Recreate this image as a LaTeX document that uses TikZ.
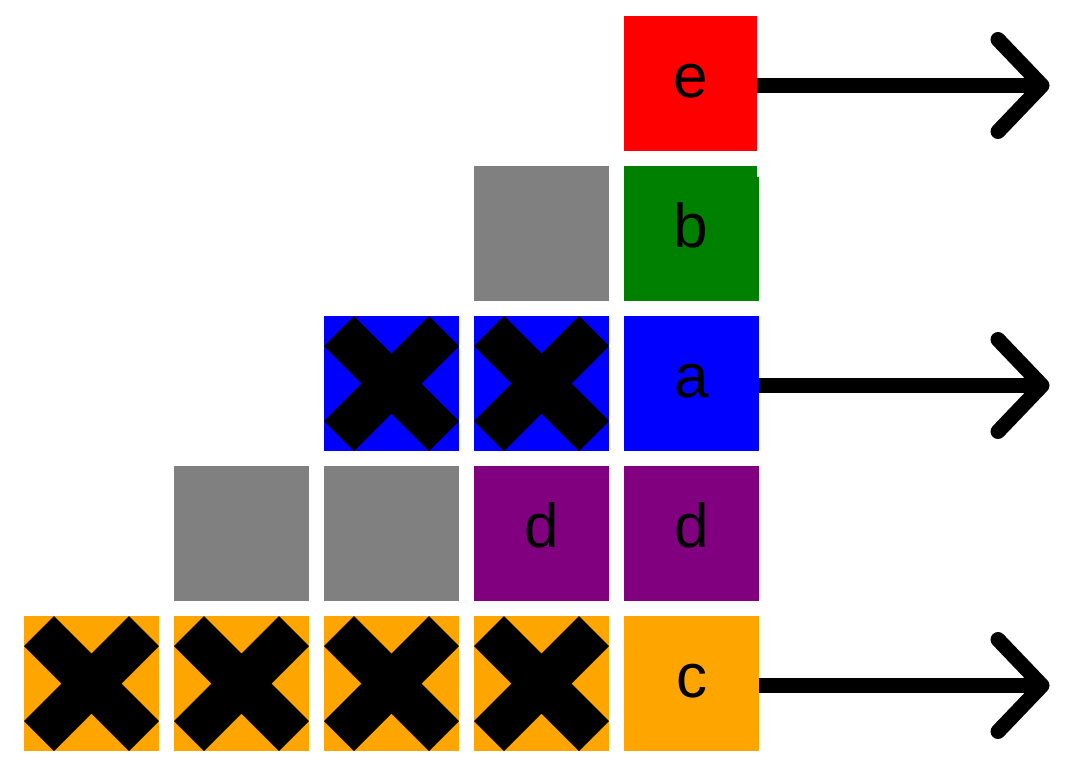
\documentclass[tikz,border=0pt]{standalone}
\usepackage{fontspec}
\setmainfont{Liberation Sans}
\definecolor{cred}{HTML}{FF0000}
\definecolor{cgreen}{HTML}{008000}
\definecolor{cblue}{HTML}{0000FF}
\definecolor{cpurple}{HTML}{800080}
\definecolor{corange}{HTML}{FFA500}
\definecolor{cgray}{HTML}{808080}
\newcommand{\xcross}[1]{%
  \fill[black,shift={(#1.north west)}] (0,30) -- (30,0) -- (67.5,37.5) -- (105,0) -- (135,30) -- (97.5,67.5) -- (135,105) -- (105,135) -- (67.5,97.5) -- (30,135) -- (0,105) -- (37.5,67.5) -- cycle;}
\tikzset{
  cell/.style={draw=none, inner sep=0pt, outer sep=0pt, minimum width=135pt, minimum height=135pt,
    font=\fontsize{62pt}{62pt}\selectfont, text height=27pt, text depth=0pt},
  shaft/.style={line width=15pt},
  barb/.style={line width=15pt, line cap=round, line join=round},
}
\begin{document}
\begin{tikzpicture}[x=1pt,y=-1pt]
\useasboundingbox (0,0) rectangle (1079,766);
% column 5
\node[cell, fill=cred, minimum width=133pt] (e) at (690.5,83.5) {e};
\node[cell, fill=cgreen, minimum width=133pt] (b) at (690.5,233.5) {b};
\fill[cgreen] (757,177) rectangle (759,301);
\node[cell, fill=cblue] (a) at (691.5,383.5) {a};
\node[cell, fill=cpurple] (d2) at (691.5,533.5) {d};
\node[cell, fill=corange] (c) at (691.5,683.5) {c};
% column 4
\node[cell, fill=cgray] (g4) at (541.5,233.5) {};
\node[cell, fill=cblue] (a4) at (541.5,383.5) {};
\node[cell, fill=cpurple] (d1) at (541.5,533.5) {d};
\node[cell, fill=corange] (c4) at (541.5,683.5) {};
% column 3
\node[cell, fill=cblue] (a3) at (391.5,383.5) {};
\node[cell, fill=cgray] (g3) at (391.5,533.5) {};
\node[cell, fill=corange] (c3) at (391.5,683.5) {};
% column 2
\node[cell, fill=cgray] (g2) at (241.5,533.5) {};
\node[cell, fill=corange] (c2) at (241.5,683.5) {};
% column 1
\node[cell, fill=corange] (c1) at (91.5,683.5) {};
% crosses
\xcross{a3}\xcross{a4}
\xcross{c1}\xcross{c2}\xcross{c3}\xcross{c4}
% arrows
\coordinate (te) at (1042,85.5);
\coordinate (ta) at (1042,385.5);
\coordinate (tc) at (1042,685.5);
\draw[shaft] ([yshift=-2pt]e.east) -- (te);
\draw[shaft] ([yshift=-2pt]a.east) -- (ta);
\draw[shaft] ([yshift=-2pt]c.east) -- (tc);
\draw[barb] ([shift={(-44,-46)}]te) -- (te) -- ([shift={(-44,46)}]te);
\draw[barb] ([shift={(-44,-46)}]ta) -- (ta) -- ([shift={(-44,46)}]ta);
\draw[barb] ([shift={(-44,-46)}]tc) -- (tc) -- ([shift={(-44,46)}]tc);
\end{tikzpicture}
\end{document}
